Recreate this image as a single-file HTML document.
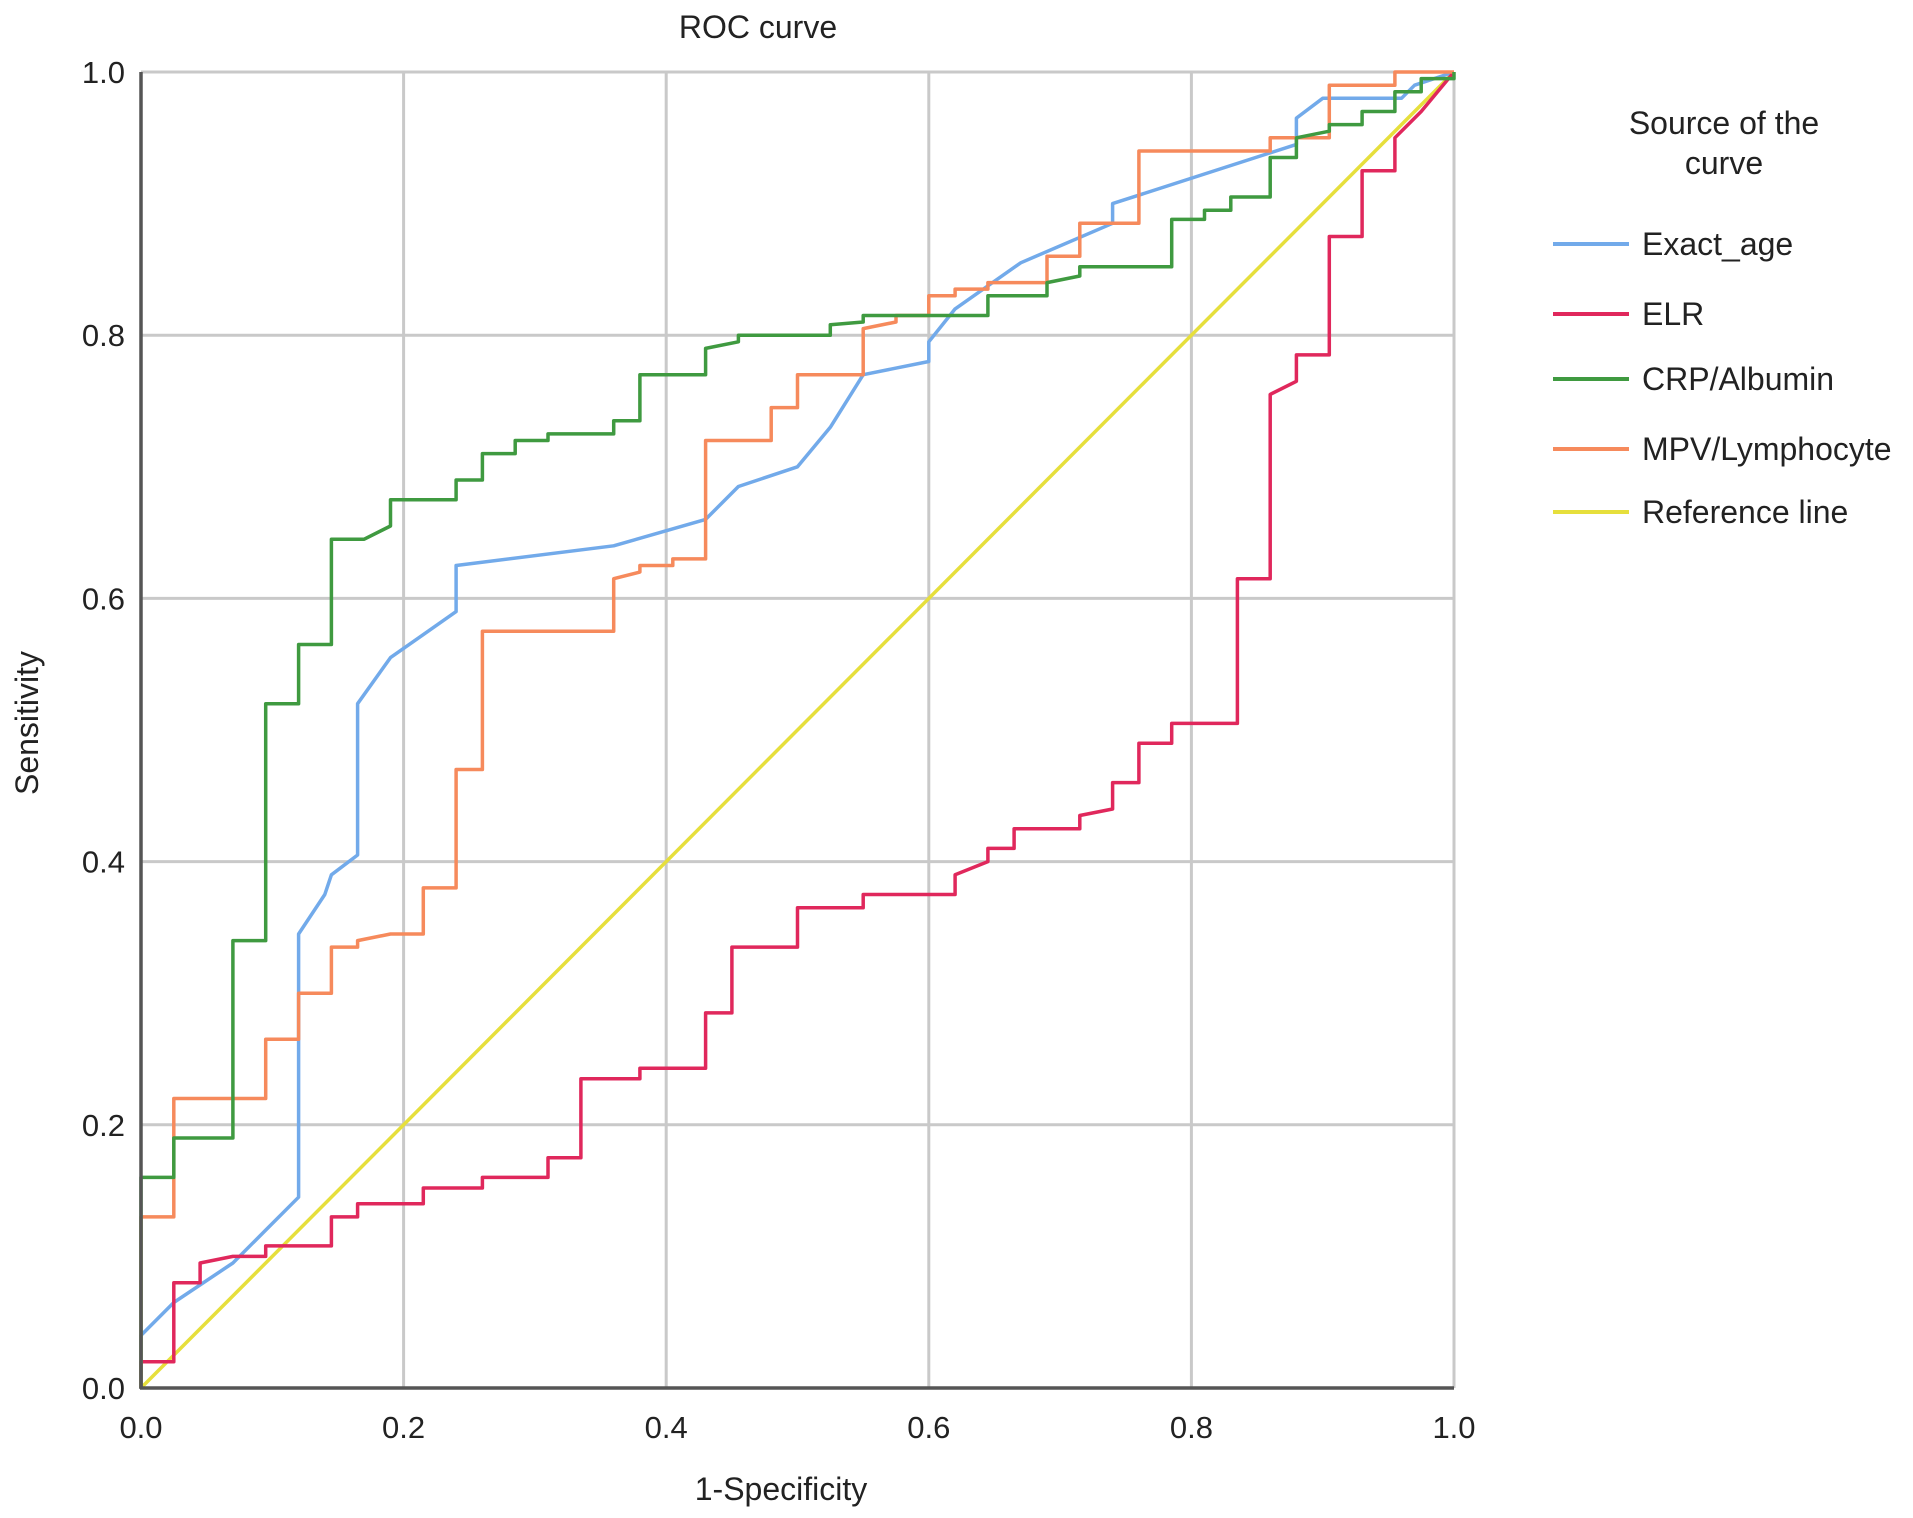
<!DOCTYPE html>
<html><head><meta charset="utf-8"><style>
html,body{margin:0;padding:0;background:#fff;}
svg{display:block;font-family:"Liberation Sans",Arial,sans-serif;}
</style></head><body>
<svg id="chart" width="1913" height="1518" viewBox="0 0 1913 1518" xmlns="http://www.w3.org/2000/svg">
<text x="758" y="38" font-size="32" text-anchor="middle" fill="#222">ROC curve</text>
<text x="781" y="1500" font-size="32" text-anchor="middle" fill="#222">1-Specificity</text>
<text x="0" y="0" font-size="32" text-anchor="middle" fill="#222" transform="translate(38,723) rotate(-90)">Sensitivity</text>
<g id="grid"></g>
<g id="series"></g>
<g id="axes"></g>
<g id="legend">
<text x="1724" y="134" font-size="32" text-anchor="middle" fill="#222">Source of the</text>
<text x="1724" y="174" font-size="32" text-anchor="middle" fill="#222">curve</text>
</g>
</svg>
<script>
const xTicks=[0,0.2,0.4,0.6,0.8,1.0];
const yTicks=[0,0.2,0.4,0.6,0.8,1.0];
const tickLabels=["0.0","0.2","0.4","0.6","0.8","1.0"];
const seriesNames=["Exact_age","ELR","CRP/Albumin","MPV/Lymphocyte","Reference line"];
const ageX=[0,0,0.025,0.07,0.095,0.12,0.12,0.14,0.145,0.165,0.165,0.19,0.24,0.24,0.36,0.43,0.455,0.5,0.525,0.55,0.6,0.6,0.62,0.67,0.74,0.74,0.88,0.88,0.9,0.96,0.97,1];
const ageY=[0,0.04,0.065,0.095,0.12,0.145,0.345,0.375,0.39,0.405,0.52,0.555,0.59,0.625,0.64,0.66,0.685,0.70,0.73,0.77,0.78,0.795,0.82,0.855,0.885,0.90,0.945,0.965,0.98,0.98,0.99,1];
const elrX=[0,0,0.025,0.025,0.045,0.045,0.07,0.095,0.095,0.145,0.145,0.165,0.165,0.215,0.215,0.26,0.26,0.31,0.31,0.335,0.335,0.38,0.38,0.43,0.43,0.45,0.45,0.5,0.5,0.55,0.55,0.62,0.62,0.645,0.645,0.665,0.665,0.715,0.715,0.74,0.74,0.76,0.76,0.785,0.785,0.835,0.835,0.86,0.86,0.88,0.88,0.905,0.905,0.93,0.93,0.955,0.955,0.975,1];
const elrY=[0,0.02,0.02,0.08,0.08,0.095,0.10,0.10,0.108,0.108,0.13,0.13,0.14,0.14,0.152,0.152,0.16,0.16,0.175,0.175,0.235,0.235,0.243,0.243,0.285,0.285,0.335,0.335,0.365,0.365,0.375,0.375,0.39,0.40,0.41,0.41,0.425,0.425,0.435,0.44,0.46,0.46,0.49,0.49,0.505,0.505,0.615,0.615,0.755,0.765,0.785,0.785,0.875,0.875,0.925,0.925,0.95,0.97,1];
const crpX=[0,0,0.025,0.025,0.07,0.07,0.095,0.095,0.12,0.12,0.145,0.145,0.17,0.19,0.19,0.24,0.24,0.26,0.26,0.285,0.285,0.31,0.31,0.36,0.36,0.38,0.38,0.43,0.43,0.455,0.455,0.525,0.525,0.55,0.55,0.645,0.645,0.69,0.69,0.715,0.715,0.785,0.785,0.81,0.81,0.83,0.83,0.86,0.86,0.88,0.88,0.905,0.905,0.93,0.93,0.955,0.955,0.975,0.975,1,1];
const crpY=[0,0.16,0.16,0.19,0.19,0.34,0.34,0.52,0.52,0.565,0.565,0.645,0.645,0.655,0.675,0.675,0.69,0.69,0.71,0.71,0.72,0.72,0.725,0.725,0.735,0.735,0.77,0.77,0.79,0.795,0.80,0.80,0.808,0.81,0.815,0.815,0.83,0.83,0.84,0.845,0.852,0.852,0.888,0.888,0.895,0.895,0.905,0.905,0.935,0.935,0.95,0.955,0.96,0.96,0.97,0.97,0.985,0.985,0.995,0.995,1];
const mpvX=[0,0,0.025,0.025,0.095,0.095,0.12,0.12,0.145,0.145,0.165,0.165,0.19,0.215,0.215,0.24,0.24,0.26,0.26,0.36,0.36,0.38,0.38,0.405,0.405,0.43,0.43,0.48,0.48,0.5,0.5,0.55,0.55,0.575,0.575,0.6,0.6,0.62,0.62,0.645,0.645,0.69,0.69,0.715,0.715,0.76,0.76,0.86,0.86,0.905,0.905,0.955,0.955,1];
const mpvY=[0,0.13,0.13,0.22,0.22,0.265,0.265,0.30,0.30,0.335,0.335,0.34,0.345,0.345,0.38,0.38,0.47,0.47,0.575,0.575,0.615,0.62,0.625,0.625,0.63,0.63,0.72,0.72,0.745,0.745,0.77,0.77,0.805,0.81,0.815,0.815,0.83,0.83,0.835,0.835,0.84,0.84,0.86,0.86,0.885,0.885,0.94,0.94,0.95,0.95,0.99,0.99,1.0,1];
const refX=[0,1];
const refY=[0,1];

const X0=141,X1=1454,Y0=1388,Y1=72;
const sx=v=>X0+(X1-X0)*v;
const sy=v=>Y0-(Y0-Y1)*v;
const NS="http://www.w3.org/2000/svg";
function mk(tag,attrs,parent){const e=document.createElementNS(NS,tag);for(const k in attrs)e.setAttribute(k,attrs[k]);parent.appendChild(e);return e;}
const grid=document.getElementById('grid'),axes=document.getElementById('axes'),ser=document.getElementById('series'),leg=document.getElementById('legend');
xTicks.forEach((t,i)=>{if(t>0){const l=mk('line',{x1:sx(t),x2:sx(t),y1:Y1,y2:Y0,stroke:'#c9c9c9','stroke-width':3},grid);

}
const tx=mk('text',{x:sx(t),y:1438,'font-size':31,'text-anchor':'middle',fill:'#222'},axes);tx.textContent=tickLabels[i];

});
yTicks.forEach((t,i)=>{if(t>0){const l=mk('line',{x1:X0,x2:X1,y1:sy(t),y2:sy(t),stroke:'#c9c9c9','stroke-width':3},grid);

}
const tx=mk('text',{x:125,y:sy(t)+11,'font-size':31,'text-anchor':'end',fill:'#222'},axes);tx.textContent=tickLabels[i];

});
const ax1=mk('line',{x1:X0,x2:X0,y1:Y1,y2:Y0+1,stroke:'#555','stroke-width':3.5},axes);


const ax2=mk('line',{x1:X0-1,x2:X1,y1:Y0,y2:Y0,stroke:'#555','stroke-width':3.5},axes);


const colors=['#72aaea','#e0285c','#3f9a40','#f68a5c','#e6df3c'];
const data=[[ageX,ageY],[elrX,elrY],[crpX,crpY],[mpvX,mpvY],[refX,refY]];
const order=[4,0,1,3,2];
const slugs=['exact-age-line','elr-line','crp-albumin-line','mpv-lymphocyte-line','reference-line'];
order.forEach(i=>{const [xs,ys]=data[i];const pts=xs.map((x,j)=>sx(x).toFixed(1)+','+sy(ys[j]).toFixed(1)).join(' ');
const p=mk('polyline',{points:pts,fill:'none',stroke:colors[i],'stroke-width':3.5,'stroke-linejoin':'round'},ser);

});
const legY=[244,314,379,449,512];
seriesNames.forEach((n,i)=>{const l=mk('line',{x1:1553,x2:1629,y1:legY[i],y2:legY[i],stroke:colors[i],'stroke-width':4},leg);


const t=mk('text',{x:1642,y:legY[i]+11,'font-size':32,fill:'#222'},leg);t.textContent=n;

});
</script>
</body></html>
